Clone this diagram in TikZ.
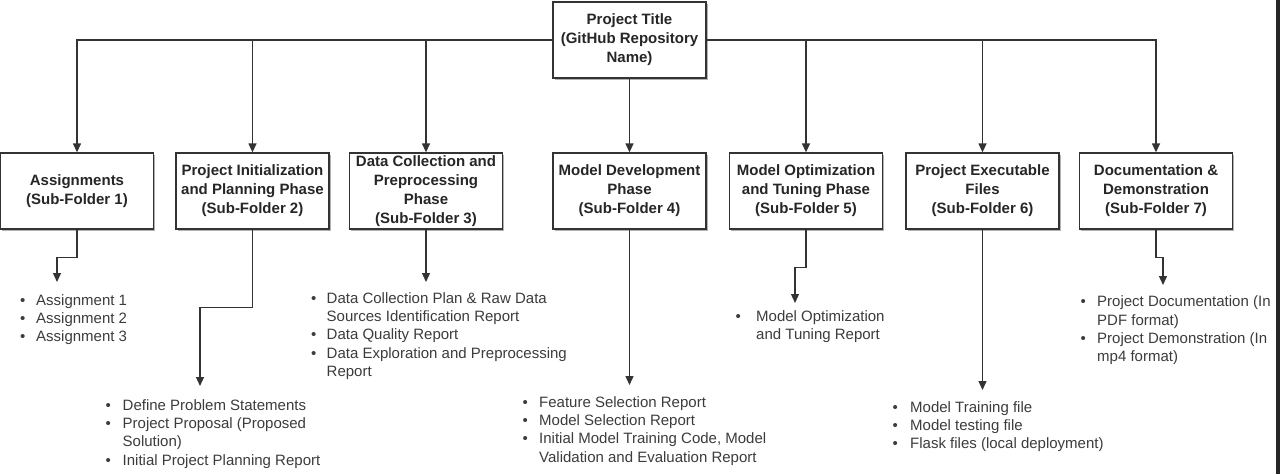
\documentclass[tikz,border=0pt]{standalone}
\usepackage{fontspec}
\setmainfont{Liberation Sans}
\usetikzlibrary{arrows.meta,shadows}
\definecolor{ln}{HTML}{333333}
\definecolor{bt}{HTML}{262626}
\definecolor{lt}{HTML}{3C3C3C}
\newcommand{\bul}[1]{\strut\makebox[#1][l]{\textbullet}}
\newcommand{\cont}[1]{\strut\hspace*{#1}}
\begin{document}
\begin{tikzpicture}[x=1pt,y=-1pt,
  box/.style={draw=ln,line width=1.3pt,fill=white,minimum width=153pt,minimum height=76pt,
    align=center,inner sep=2pt,text=bt,font=\bfseries\fontsize{15}{19}\selectfont,
    drop shadow={shadow xshift=1.5pt,shadow yshift=-1.5pt,opacity=0.3,fill=black}},
  lst/.style={anchor=north west,inner sep=0pt,align=left,text=lt,font=\fontsize{15}{18.3}\selectfont},
  arr/.style={draw=ln,line width=1.3pt,-{Triangle[width=8pt,length=9pt]}}]
\useasboundingbox (0,0) rectangle (1280,474);
\fill[white] (0,0) rectangle (1280,474);
\fill[black!85] (1276,0) rectangle (1280,474);

\node[box] (top) at (629.5,40) {Project Title\\(GitHub Repository\\Name)};
\node[box] (b1) at (77,191) {Assignments\\(Sub-Folder 1)};
\node[box] (b2) at (252.5,191) {Project Initialization\\and Planning Phase\\(Sub-Folder 2)};
\node[box] (b3) at (426,191) {Data Collection and\\Preprocessing\\Phase\\(Sub-Folder 3)};
\node[box] (b4) at (629.5,191) {Model Development\\Phase\\(Sub-Folder 4)};
\node[box] (b5) at (806,191) {Model Optimization\\and Tuning Phase\\(Sub-Folder 5)};
\node[box] (b6) at (982.5,191) {Project Executable\\Files\\(Sub-Folder 6)};
\node[box] (b7) at (1156,191) {Documentation \&\\Demonstration\\(Sub-Folder 7)};

\draw[arr] (top.west) -| (b1.north);
\draw[arr] (top.west) -| (b2.north);
\draw[arr] (top.west) -| (b3.north);
\draw[arr] (top.south) -- (b4.north);
\draw[arr] (top.east) -| (b5.north);
\draw[arr] (top.east) -| (b6.north);
\draw[arr] (top.east) -| (b7.north);

\coordinate (c1) at (57,282);
\coordinate (c2) at (200,386);
\coordinate (c3) at (426,282);
\coordinate (c4) at (629.5,385);
\coordinate (c5) at (795,303);
\coordinate (c6) at (982.5,390);
\coordinate (c7) at (1163,285);

\draw[arr] (b1.south) -- ++(0,28) -| (c1);
\draw[arr] (b2.south) -- ++(0,78) -| (c2);
\draw[arr] (b3.south) -- (c3);
\draw[arr] (b4.south) -- (c4);
\draw[arr] (b5.south) -- ++(0,38) -| (c5);
\draw[arr] (b6.south) -- (c6);
\draw[arr] (b7.south) -- ++(0,28) -| (c7);

\node[lst] (l1) at (20,292.2) {\bul{16pt}Assignment 1\\\bul{16pt}Assignment 2\\\bul{16pt}Assignment 3};
\node[lst] (l2) at (105.5,397.2) {\bul{17pt}Define Problem Statements\\\bul{17pt}Project Proposal (Proposed\\\cont{17pt}Solution)\\\bul{17pt}Initial Project Planning Report};
\node[lst] (l3) at (311,290.2) {\bul{15.5pt}Data Collection Plan \& Raw Data\\\cont{15.5pt}Sources Identification Report\\\bul{15.5pt}Data Quality Report\\\bul{15.5pt}Data Exploration and Preprocessing\\\cont{15.5pt}Report};
\node[lst] (l4) at (522.5,394.2) {\bul{16.5pt}Feature Selection Report\\\bul{16.5pt}Model Selection Report\\\bul{16.5pt}Initial Model Training Code, Model\\\cont{16.5pt}Validation and Evaluation Report};
\node[lst] (l5) at (735.5,308.2) {\bul{20.5pt}Model Optimization\\\cont{20.5pt}and Tuning Report};
\node[lst] (l6) at (892.5,399.2) {\bul{17.5pt}Model Training file\\\bul{17.5pt}Model testing file\\\bul{17.5pt}Flask files (local deployment)};
\node[lst] (l7) at (1080.5,293.7) {\bul{16.5pt}Project Documentation (In\\\cont{16.5pt}PDF format)\\\bul{16.5pt}Project Demonstration (In\\\cont{16.5pt}mp4 format)};
\end{tikzpicture}
\end{document}
